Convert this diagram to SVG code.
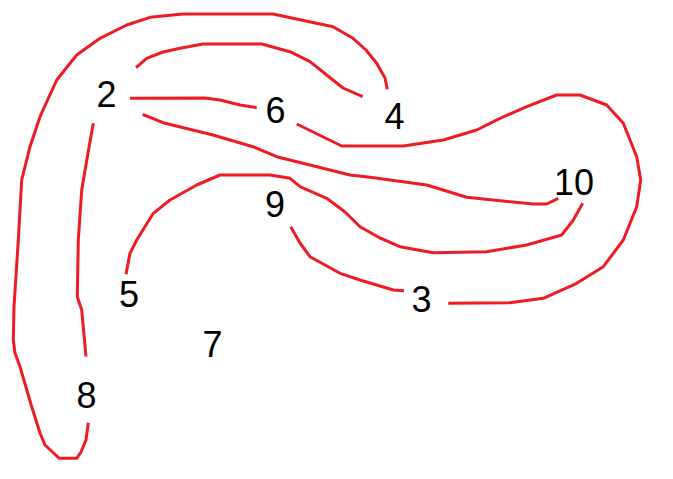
<svg xmlns="http://www.w3.org/2000/svg" width="673" height="479" viewBox="0 0 673 479">
<style>
.e{fill:none;stroke:#ed1c24;stroke-width:3;stroke-linejoin:round;stroke-linecap:butt}
.n text{font-family:"Liberation Sans",Arial,sans-serif;font-size:36px;fill:#000;text-anchor:middle}
</style>
<rect width="673" height="479" fill="#fff"/>
<g id="connectors">
<path class="e" d="M130,98.3 L205,98 L220,100 L240,105 L256.7,107.7"/>
<path class="e" d="M136,67.7 L146.7,58.3 L163,52 L180,48.3 L203,44 L261.7,44 L290,51.7 L310,61.7 L326.7,75 L343,88 L362.7,96.7"/>
<path class="e" d="M88.3,422.7 L86,440 L81,452 L76.7,458.3 L59.3,458.3 L45,445 L40,433 L31.7,406.7 L20,366.7 L15,353 L13.3,340 L14,306.7 L18.3,240 L21.7,180 L30,146.7 L40,116.7 L56.7,80 L76.7,55 L100,38.3 L126.7,25 L150,17.3 L183,14 L273,14 L333,26.7 L353,38.3 L366,50 L376.7,63.3 L385,78 L387.3,89.3"/>
<path class="e" d="M93.3,123.3 L88,153 L81.7,190 L78.3,240 L77.3,296.7 L81.7,310 L86,356.7"/>
<path class="e" d="M142.7,114.3 L163,122.7 L213,135 L253,146.7 L276.7,156.7 L310,165 L350,175 L370,177.3 L426.7,185 L466.7,197.3 L533.3,204 L546.7,204 L558.3,198.3"/>
<path class="e" d="M296.7,124 L341.7,146 L403.3,146 L443.3,140 L476.7,130 L500,118.3 L526.7,106.7 L556.7,95 L580,95 L606.7,105 L623.3,123.3 L636.7,156.7 L640.7,180 L636.7,206.7 L623.3,240 L603.3,266.7 L576.7,283.3 L543.3,298.3 L510,302.7 L448.3,303.3"/>
<path class="e" d="M290.7,226.7 L300,243 L310,256.7 L340,273.3 L360,280 L393.3,290 L404,290.7"/>
<path class="e" d="M126,274.3 L130,253.3 L136.7,240 L153.3,213.3 L170,200 L196.7,185 L220,175 L270,175 L290,178.3 L300,186.7 L326.7,198.3 L345,212 L360,226.7 L380,238 L400,246.7 L433.3,252.7 L486.7,251.7 L526.7,245 L561.7,235 L573.3,220 L582.7,203.3"/>
</g>
<g id="n2" class="n"><text x="106.5" y="107">2</text></g>
<g id="n6" class="n"><text x="275.5" y="123">6</text></g>
<g id="n4" class="n"><text x="394.5" y="129">4</text></g>
<g id="n10" class="n"><text x="574" y="195">10</text></g>
<g id="n9" class="n"><text x="275" y="217">9</text></g>
<g id="n3" class="n"><text x="421.5" y="312">3</text></g>
<g id="n5" class="n"><text x="129" y="307">5</text></g>
<g id="n7" class="n"><text x="212.5" y="357">7</text></g>
<g id="n8" class="n"><text x="86.5" y="408">8</text></g>
</svg>
